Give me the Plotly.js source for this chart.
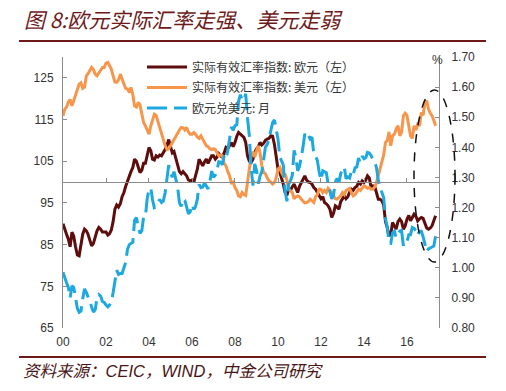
<!DOCTYPE html>
<html><head><meta charset="utf-8">
<script src="https://cdn.plot.ly/plotly-3.0.1.min.js"></script>
<style>html,body{margin:0;padding:0;background:#fff}#chart{width:506px;height:391px}</style>
</head><body><div id="chart"></div>
<script>
// Monthly observations, Jan 2000 .. May 2017
const startYear = 2000, startMonth = 1;
const eurReer = [
 90.0,88.5,87.5,86.3,84.5,88.0,87.0,84.5,82.5,82.3,84.5,87.5,
 88.7,88.3,87.5,86.0,84.7,85.3,86.8,88.3,89.1,88.7,88.0,88.0,
 88.0,87.3,87.6,88.5,90.5,93.5,94.5,94.0,94.8,96.5,97.5,99.0,
 100.3,101.5,102.5,103.5,105.5,105.0,103.5,102.3,102.8,104.5,104.5,106.8,
 108.3,107.5,105.5,105.3,106.3,106.0,106.5,106.3,107.0,107.8,108.8,110.2,
 108.5,107.0,107.3,105.5,104.0,102.5,102.0,102.5,102.0,101.5,100.5,100.3,
 100.5,100.0,101.5,103.1,105.5,104.5,103.9,104.8,105.5,104.5,105.5,106.3,
 106.3,105.5,106.0,106.8,106.3,106.0,107.0,108.3,108.0,108.8,109.5,108.5,
 109.5,111.0,111.9,111.5,111.0,110.7,109.5,106.3,105.0,104.7,105.5,107.1,
 108.0,108.5,109.5,108.9,109.3,110.0,110.3,110.5,111.1,111.0,109.0,106.3,
 103.1,102.3,101.0,99.5,97.5,96.8,98.3,98.0,98.9,99.5,98.5,97.5,
 99.0,99.9,101.0,101.5,100.5,100.0,99.9,99.5,98.7,98.3,97.5,96.7,
 96.0,96.5,95.1,94.8,94.3,93.5,91.5,92.5,94.3,94.0,93.5,95.3,
 95.9,96.7,96.0,96.5,97.5,98.3,98.0,98.7,99.0,99.9,99.5,100.3,
 99.9,100.5,101.5,101.0,98.7,99.1,99.0,97.5,95.9,95.9,95.5,94.5,
 90.5,89.0,87.1,87.5,90.3,89.5,88.7,90.5,91.1,90.5,88.7,89.5,
 91.1,92.0,90.7,91.5,92.3,91.8,90.7,91.2,91.5,91.3,90.0,89.0,
 88.7,89.0,89.5,90.5,91.9
];
const usdReer = [
 115.9,117.5,118.0,119.2,119.8,118.3,119.5,120.8,122.3,123.5,123.8,122.5,
 122.8,125.5,126.0,126.8,127.5,127.0,125.9,125.5,126.3,126.8,127.5,127.5,
 128.5,128.7,128.0,127.1,125.5,124.0,123.9,124.5,125.9,124.5,123.5,122.5,
 122.3,121.5,122.7,121.0,118.3,118.0,119.1,118.5,116.5,114.3,113.5,112.5,
 111.5,113.5,115.0,116.3,116.0,114.5,113.5,112.0,110.5,108.8,107.8,108.0,
 108.7,109.5,110.2,110.8,111.9,112.5,113.1,113.0,112.5,113.1,112.0,111.5,
 111.5,111.9,111.5,110.8,110.5,111.1,110.3,109.5,108.7,108.5,108.0,107.8,
 108.0,107.8,107.0,106.3,106.5,106.3,104.5,103.9,102.5,101.5,99.8,100.0,
 98.7,98.0,96.7,96.5,97.5,97.0,96.8,99.9,102.5,106.3,107.3,106.0,
 107.5,108.7,107.0,103.9,102.3,102.0,101.0,100.3,100.0,99.5,99.9,101.0,
 103.1,103.5,102.3,101.5,102.0,100.5,98.3,98.0,97.5,96.0,96.5,96.7,
 96.5,95.9,95.5,95.0,95.1,95.3,95.9,95.5,95.1,96.5,97.0,98.3,
 98.3,97.5,98.0,97.5,98.5,98.0,97.5,96.7,96.0,95.9,96.3,96.7,
 97.5,97.0,98.0,98.3,98.5,97.5,96.7,97.0,97.8,98.3,98.0,98.5,
 99.1,98.8,98.5,98.7,98.3,98.3,98.8,99.9,101.5,103.0,104.7,106.5,
 109.5,110.0,112.0,108.7,111.1,111.5,112.7,113.5,111.1,112.0,115.9,116.5,
 116.0,113.5,111.1,110.5,113.5,112.5,113.9,113.5,116.7,116.0,119.1,119.5,
 117.5,116.5,115.9,114.8,113.5
];
const eurUsd = [
 0.985,0.965,0.950,0.935,0.900,0.940,0.935,0.900,0.865,0.852,0.856,0.897,
 0.930,0.918,0.905,0.888,0.870,0.853,0.861,0.900,0.911,0.906,0.888,0.885,
 0.876,0.870,0.876,0.886,0.917,0.955,0.992,0.978,0.981,0.981,1.001,1.018,
 1.062,1.077,1.081,1.085,1.158,1.167,1.137,1.114,1.122,1.169,1.170,1.229,
 1.261,1.265,1.226,1.199,1.201,1.214,1.227,1.217,1.222,1.249,1.299,1.341,
 1.312,1.301,1.319,1.294,1.269,1.216,1.204,1.229,1.224,1.202,1.179,1.186,
 1.210,1.194,1.203,1.227,1.277,1.266,1.268,1.281,1.272,1.262,1.288,1.321,
 1.300,1.308,1.324,1.352,1.351,1.342,1.372,1.362,1.390,1.423,1.468,1.457,
 1.472,1.475,1.552,1.575,1.556,1.556,1.578,1.497,1.437,1.333,1.273,1.345,
 1.324,1.279,1.305,1.319,1.365,1.401,1.409,1.427,1.456,1.482,1.491,1.458,
 1.427,1.368,1.357,1.341,1.256,1.221,1.277,1.289,1.307,1.390,1.366,1.322,
 1.336,1.365,1.400,1.445,1.432,1.439,1.428,1.434,1.377,1.371,1.356,1.318,
 1.291,1.322,1.320,1.316,1.279,1.254,1.229,1.240,1.286,1.297,1.283,1.312,
 1.330,1.334,1.296,1.302,1.298,1.320,1.309,1.332,1.335,1.364,1.349,1.371,
 1.362,1.366,1.383,1.381,1.373,1.359,1.354,1.332,1.290,1.267,1.247,1.233,
 1.162,1.135,1.083,1.081,1.116,1.122,1.100,1.114,1.122,1.124,1.073,1.088,
 1.086,1.110,1.110,1.134,1.131,1.123,1.107,1.121,1.121,1.103,1.079,1.054,
 1.063,1.065,1.069,1.072,1.105
];
const seriesNames = ['实际有效汇率指数: 欧元（左）', '实际有效汇率指数: 美元（左）', '欧元兑美元: 月'];
const leftTicks = [65, 75, 85, 95, 105, 115, 125];
const rightTicks = [0.8, 0.9, 1.0, 1.1, 1.2, 1.3, 1.4, 1.5, 1.6, 1.7];
const xTickYears = [2000, 2002, 2004, 2006, 2008, 2010, 2012, 2014, 2016];

function monthDates(n){
  const out = [];
  for (let i = 0; i < n; i++){
    const y = startYear + Math.floor((startMonth - 1 + i) / 12);
    const m = (startMonth - 1 + i) % 12 + 1;
    out.push(y + '-' + String(m).padStart(2, '0') + '-01');
  }
  return out;
}
const dates = monthDates(eurReer.length);

const traces = [
  {x: dates, y: eurReer, name: seriesNames[0], type: 'scatter', mode: 'lines', legend: 'legend',
   line: {color: '#5e0d0d', width: 3}, xaxis: 'x', yaxis: 'y'},
  {x: dates, y: usdReer, name: seriesNames[1], type: 'scatter', mode: 'lines', legend: 'legend2',
   line: {color: '#f7964a', width: 3}, xaxis: 'x', yaxis: 'y'},
  {x: dates, y: eurUsd, name: seriesNames[2], type: 'scatter', mode: 'lines', legend: 'legend3',
   line: {color: '#1ea8e0', width: 3, dash: '20px,7px'}, xaxis: 'x', yaxis: 'y2'},
  {x: [], y: [], xaxis: 'x2', yaxis: 'y', showlegend: false, hoverinfo: 'skip', type: 'scatter'}
];

const xRange = ['2000-01-01', '2017-06-28'];
const tickFont = {family: 'Liberation Sans, Arial, sans-serif', size: 12, color: '#333'};
const darkRed = '#6e1a1a';
const legFont = {family: 'Noto Sans CJK SC, sans-serif', size: 12, color: '#333'};
function leg(yPix){
  return {x: (142 - 63) / 376, y: (328 - yPix) / 271, xanchor: 'left', yanchor: 'middle',
    bgcolor: 'rgba(0,0,0,0)', font: legFont, itemwidth: 40};
}

const layout = {
  width: 506, height: 391,
  margin: {l: 63, r: 67, t: 57, b: 63},
  paper_bgcolor: '#fff', plot_bgcolor: '#fff',
  showlegend: true,
  title: {text: '<i>图 8:欧元实际汇率走强、美元走弱</i>',
    font: {family: 'Noto Sans CJK SC, sans-serif', size: 21, color: darkRed},
    x: 24/506, xref: 'container', xanchor: 'left', y: 1 - 21/391, yref: 'container', yanchor: 'middle'},
  xaxis: {type: 'date', range: xRange, showline: false, ticks: '', showgrid: false, zeroline: false,
    tickvals: xTickYears.map(y => y + '-01-01'), ticktext: xTickYears.map(y => String(y).slice(2)),
    tickfont: tickFont, ticklabelstandoff: 5},
  xaxis2: {type: 'date', range: xRange, overlaying: 'x', anchor: 'free', position: (100 - 65) / (130 - 65),
    showline: true, linecolor: '#8c8c8c', linewidth: 1, ticks: 'inside', ticklen: 4, tickcolor: '#8c8c8c',
    tickvals: xTickYears.map(y => y + '-01-01'), showticklabels: false, showgrid: false, zeroline: false},
  yaxis: {range: [65, 130], tickvals: leftTicks, showline: true, linecolor: '#8c8c8c', linewidth: 1,
    ticks: 'inside', ticklen: 4, tickcolor: '#8c8c8c', showgrid: false, zeroline: false,
    tickfont: tickFont, ticklabelstandoff: 6},
  yaxis2: {range: [0.8, 1.7], tickvals: rightTicks, tickformat: '.2f', overlaying: 'y', side: 'right',
    showline: true, linecolor: '#8c8c8c', linewidth: 1, ticks: 'inside', ticklen: 4, tickcolor: '#8c8c8c',
    showgrid: false, zeroline: false, tickfont: tickFont, ticklabelstandoff: 9},
  legend: leg(67),
  legend2: leg(87.5),
  legend3: leg(108),
  annotations: [
    {text: '%', xref: 'paper', yref: 'paper', x: (437 - 63) / 376, y: (328 - 60) / 271, showarrow: false,
     font: {family: 'Liberation Sans, Arial, sans-serif', size: 12, color: '#333'}, xanchor: 'center', yanchor: 'middle'},
    {text: '<i>资料来源：CEIC，WIND，中金公司研究</i>', xref: 'paper', yref: 'paper',
     x: (21 - 63) / 376, y: (328 - 371) / 271, xanchor: 'left', yanchor: 'middle', showarrow: false,
     font: {family: 'Liberation Sans, Noto Sans CJK SC, sans-serif', size: 16.5, color: '#4a1515'}}
  ],
  shapes: [
    {type: 'line', xref: 'paper', yref: 'paper', x0: (19 - 63) / 376, x1: (486 - 63) / 376,
     y0: (328 - 41) / 271, y1: (328 - 41) / 271, line: {color: darkRed, width: 2}},
    {type: 'line', xref: 'paper', yref: 'paper', x0: (19 - 63) / 376, x1: (486 - 63) / 376,
     y0: (328 - 357) / 271, y1: (328 - 357) / 271, line: {color: darkRed, width: 2}},
    {type: 'circle', xref: 'paper', yref: 'paper', x0: (414 - 63) / 376, x1: (455 - 63) / 376,
     y0: (328 - 262) / 271, y1: (328 - 90) / 271, line: {color: '#111', width: 1.5, dash: 'dash'}}
  ]
};

Plotly.newPlot('chart', traces, layout, {staticPlot: true, displayModeBar: false});
</script></body></html>
